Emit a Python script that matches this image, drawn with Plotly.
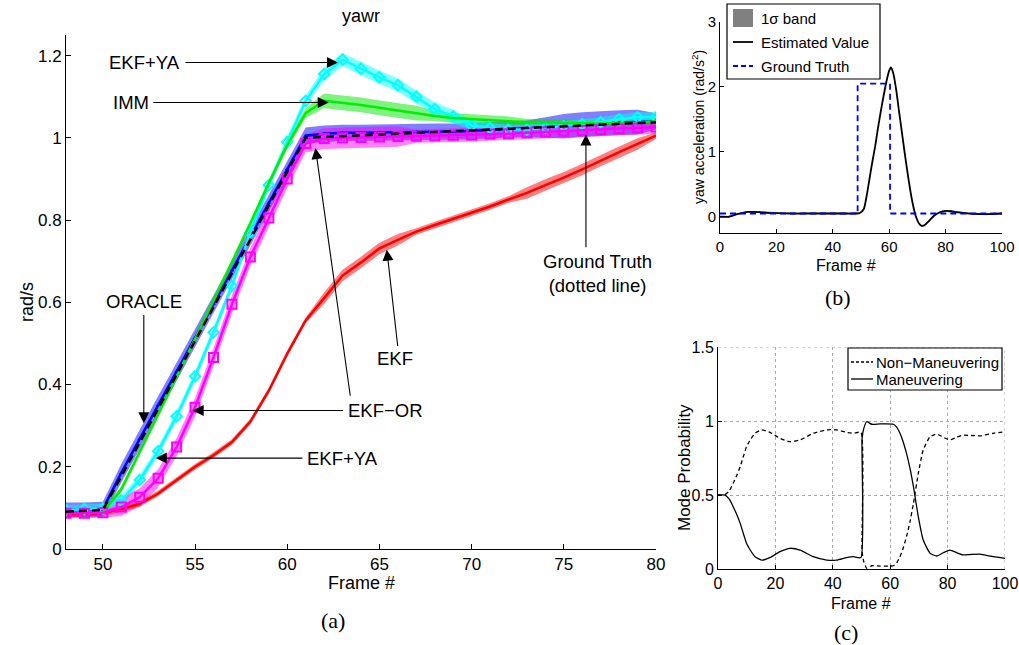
import plotly.graph_objects as go

W, H = 1019, 645

# ---------------- Panel (a) data: yaw rate (rad/s) vs frame ----------------
frames = [48, 49, 50, 51, 52, 53, 54, 55, 56, 57, 58, 59, 60, 61, 62, 63, 64,
          65, 66, 67, 68, 69, 70, 71, 72, 73, 74, 75, 76, 77, 78, 79, 80]

ground_truth = [0.091, 0.093, 0.095, 0.177, 0.259, 0.342, 0.424, 0.506, 0.588, 0.671, 0.753,
                0.835, 0.918, 1.000, 1.002, 1.004, 1.006, 1.008, 1.010, 1.012, 1.014, 1.016,
                1.018, 1.020, 1.022, 1.024, 1.026, 1.028, 1.030, 1.032, 1.034, 1.036, 1.038]

oracle = [0.095, 0.095, 0.097, 0.185, 0.268, 0.350, 0.432, 0.514, 0.596, 0.678, 0.760,
          0.842, 0.924, 1.005, 1.010, 1.012, 1.012, 1.013, 1.013, 1.014, 1.015, 1.015,
          1.017, 1.018, 1.020, 1.022, 1.025, 1.028, 1.032, 1.035, 1.037, 1.038, 1.040]
oracle_sd = [0.018, 0.018, 0.018, 0.022, 0.022, 0.022, 0.022, 0.022, 0.022, 0.022, 0.022,
             0.022, 0.022, 0.02, 0.02, 0.02, 0.02, 0.02, 0.02, 0.02, 0.02, 0.02,
             0.02, 0.02, 0.02, 0.02, 0.025, 0.03, 0.03, 0.03, 0.03, 0.03, 0.02]

imm = [0.088, 0.088, 0.089, 0.145, 0.235, 0.327, 0.419, 0.511, 0.603, 0.697, 0.792,
       0.890, 0.982, 1.060, 1.090, 1.085, 1.080, 1.073, 1.066, 1.060, 1.053, 1.048,
       1.045, 1.042, 1.040, 1.038, 1.037, 1.036, 1.035, 1.035, 1.036, 1.037, 1.040]
imm_sd = [0.008, 0.008, 0.008, 0.008, 0.008, 0.008, 0.008, 0.008, 0.008, 0.008, 0.008,
          0.008, 0.008, 0.012, 0.018, 0.018, 0.018, 0.018, 0.018, 0.018, 0.012, 0.012,
          0.012, 0.012, 0.012, 0.008, 0.008, 0.008, 0.008, 0.008, 0.008, 0.008, 0.008]

ekf_ya = [0.095, 0.097, 0.098, 0.118, 0.168, 0.238, 0.323, 0.420, 0.527, 0.640, 0.770,
          0.885, 0.990, 1.090, 1.155, 1.190, 1.168, 1.147, 1.128, 1.100, 1.070, 1.052,
          1.030, 1.024, 1.020, 1.020, 1.024, 1.028, 1.033, 1.038, 1.045, 1.050, 1.050]
ekf_ya_sd = [0.012, 0.012, 0.012, 0.012, 0.012, 0.012, 0.012, 0.012, 0.012, 0.012, 0.012,
             0.012, 0.012, 0.012, 0.016, 0.016, 0.016, 0.016, 0.016, 0.016, 0.016, 0.016,
             0.012, 0.012, 0.012, 0.012, 0.012, 0.012, 0.012, 0.012, 0.012, 0.012, 0.012]

ekf_or = [0.087, 0.087, 0.088, 0.102, 0.126, 0.172, 0.248, 0.345, 0.466, 0.595, 0.710,
          0.805, 0.900, 0.986, 0.998, 1.000, 1.001, 1.002, 1.003, 1.004, 1.005, 1.006,
          1.007, 1.009, 1.010, 1.012, 1.014, 1.016, 1.018, 1.020, 1.022, 1.024, 1.026]
ekf_or_sd = [0.012, 0.012, 0.012, 0.022, 0.022, 0.022, 0.022, 0.022, 0.022, 0.022, 0.022,
             0.022, 0.022, 0.022, 0.025, 0.025, 0.025, 0.025, 0.025, 0.016, 0.016, 0.016,
             0.016, 0.016, 0.016, 0.016, 0.016, 0.016, 0.016, 0.016, 0.016, 0.016, 0.016]

ekf = [0.085, 0.087, 0.088, 0.097, 0.110, 0.135, 0.168, 0.200, 0.228, 0.260, 0.310,
       0.385, 0.475, 0.556, 0.610, 0.665, 0.697, 0.731, 0.752, 0.772, 0.788, 0.803,
       0.818, 0.833, 0.850, 0.866, 0.885, 0.903, 0.923, 0.945, 0.965, 0.985, 1.005]
ekf_sd = [0.007, 0.007, 0.007, 0.007, 0.007, 0.007, 0.007, 0.007, 0.007, 0.007, 0.007,
          0.007, 0.007, 0.007, 0.014, 0.014, 0.014, 0.014, 0.014, 0.008, 0.008, 0.008,
          0.008, 0.008, 0.008, 0.014, 0.014, 0.014, 0.014, 0.014, 0.014, 0.014, 0.008]

x_ticks_a = [50, 55, 60, 65, 70, 75, 80]
y_ticks_a = [0, 0.2, 0.4, 0.6, 0.8, 1.0, 1.2]
y_ticklabels_a = ["0", "0.2", "0.4", "0.6", "0.8", "1", "1.2"]

# ---------------- Panel (b) data: yaw acceleration ----------------
gt_b_frame = [0, 48.8, 48.8, 60.3, 60.3, 100]
gt_b_value = [0.05, 0.05, 2.05, 2.05, 0.05, 0.05]

est_b_frame = [0, 3, 6, 8, 10, 12, 14, 17, 20, 25, 30, 35, 40, 45, 48, 49.5, 51, 52, 53, 54,
               55, 56, 57, 58, 59, 60, 60.6, 61.5, 62.5, 63.5, 64.5, 65.5, 66.5, 67.5, 68.5,
               69.5, 70.5, 71.5, 72.5, 74, 76, 78, 80, 82, 84, 87, 90, 95, 100]
est_b_value = [0.0, 0.0, 0.04, 0.06, 0.075, 0.075, 0.07, 0.06, 0.055, 0.05, 0.05, 0.05, 0.05,
               0.05, 0.05, 0.055, 0.12, 0.32, 0.58, 0.84, 1.08, 1.36, 1.62, 1.86, 2.08, 2.25,
               2.3, 2.2, 1.95, 1.62, 1.3, 0.98, 0.68, 0.4, 0.17, 0.0, -0.1, -0.14, -0.13,
               -0.07, 0.02, 0.07, 0.09, 0.085, 0.07, 0.055, 0.045, 0.04, 0.05]
est_b_sigma = 0.015

x_ticks_b = [0, 20, 40, 60, 80, 100]
y_ticks_b = [0, 1, 2, 3]

# ---------------- Panel (c) data: mode probabilities ----------------
mode_frame = [0, 2.3, 4, 5.3, 6.5, 7.7, 9, 10, 11.5, 12.9, 15.2, 18.1, 21.6, 25.1, 28.6, 33.2,
              37.9, 41.3, 44.8, 47.1, 49.8, 50.2, 50.8, 51.8, 53.6, 56.5, 61.1, 62.2, 63.4,
              64.5, 65.7, 66.9, 68.1, 69.8, 71.5, 73.9, 76.2, 78.5, 80.8, 83.2, 85.5, 88,
              91.3, 95.9, 100]
maneuvering = [0.5, 0.5, 0.47, 0.42, 0.37, 0.31, 0.23, 0.17, 0.12, 0.083, 0.06, 0.077, 0.117,
               0.14, 0.128, 0.083, 0.06, 0.06, 0.077, 0.083, 0.077, 0.88, 0.95, 0.995, 0.978,
               0.98, 0.978, 0.96, 0.917, 0.86, 0.78, 0.68, 0.556, 0.353, 0.196, 0.106, 0.088,
               0.11, 0.128, 0.11, 0.095, 0.098, 0.1, 0.083, 0.072]
non_maneuvering = [0.5, 0.5, 0.53, 0.58, 0.63, 0.69, 0.77, 0.83, 0.88, 0.917, 0.94, 0.923,
                   0.883, 0.86, 0.872, 0.917, 0.94, 0.94, 0.923, 0.917, 0.923, 0.12, 0.05,
                   0.005, 0.022, 0.02, 0.022, 0.04, 0.083, 0.14, 0.22, 0.32, 0.444, 0.647,
                   0.804, 0.894, 0.912, 0.89, 0.872, 0.89, 0.905, 0.902, 0.9, 0.917, 0.928]

x_ticks_c = [0, 20, 40, 60, 80, 100]
y_ticks_c = [0, 0.5, 1, 1.5]
y_ticklabels_c = ["0", "0.5", "1", "1.5"]

SANS = "Liberation Sans, Arial, sans-serif"
SERIF = "Liberation Serif, DejaVu Serif, serif"

fig = go.Figure()


def add_band(x, y, sd, color, xa="x", ya="y"):
    if isinstance(sd, (int, float)):
        sd = [sd] * len(y)
    up = [v + s for v, s in zip(y, sd)]
    lo = [v - s for v, s in zip(y, sd)]
    fig.add_trace(go.Scatter(x=list(x) + list(x)[::-1], y=up + lo[::-1], fill="toself",
                             fillcolor=color, line=dict(width=0), mode="lines",
                             hoverinfo="skip", showlegend=False, xaxis=xa, yaxis=ya))


# bands (a)
add_band(frames, oracle, oracle_sd, "rgba(0,0,255,0.5)")
add_band(frames, imm, imm_sd, "rgba(0,230,0,0.5)")
add_band(frames, ekf_ya, ekf_ya_sd, "rgba(0,255,255,0.5)")
add_band(frames, ekf_or, ekf_or_sd, "rgba(255,0,255,0.5)")
add_band(frames, ekf, ekf_sd, "rgba(255,0,0,0.5)")

# lines (a)
fig.add_trace(go.Scatter(x=frames, y=ekf, mode="lines", line=dict(color="#ff0000", width=2.5),
                         name="EKF", showlegend=False))
fig.add_trace(go.Scatter(x=frames, y=oracle, mode="lines+markers",
                         line=dict(color="#0000ff", width=2.5),
                         marker=dict(symbol="triangle-up", size=4, color="#0000ff"),
                         name="ORACLE", showlegend=False))
fig.add_trace(go.Scatter(x=frames, y=ekf_ya, mode="lines+markers",
                         line=dict(color="#00ffff", width=2.5),
                         marker=dict(symbol="diamond-open", size=8, color="#00ffff",
                                     line=dict(width=2, color="#00ffff")),
                         name="EKF+YA", showlegend=False))
fig.add_trace(go.Scatter(x=frames, y=imm, mode="lines", line=dict(color="#00ee00", width=2.5),
                         name="IMM", showlegend=False))
fig.add_trace(go.Scatter(x=frames, y=ekf_or, mode="lines+markers",
                         line=dict(color="#ff00ff", width=2.5),
                         marker=dict(symbol="square-open", size=9, color="#ff00ff",
                                     line=dict(width=2, color="#ff00ff")),
                         name="EKF-OR", showlegend=False))
fig.add_trace(go.Scatter(x=frames, y=ground_truth, mode="lines",
                         line=dict(color="black", width=2.5, dash="8px,5px"),
                         name="Ground Truth", showlegend=False))

# (b)
add_band(est_b_frame, est_b_value, est_b_sigma, "rgba(128,128,128,0.6)", "x2", "y2")
fig.add_trace(go.Scatter(x=est_b_frame, y=est_b_value, mode="lines", xaxis="x2", yaxis="y2",
                         line=dict(color="black", width=1.8, shape="spline", smoothing=0.6),
                         showlegend=False))
fig.add_trace(go.Scatter(x=gt_b_frame, y=gt_b_value, mode="lines", xaxis="x2", yaxis="y2",
                         line=dict(color="#0000ff", width=1.8, dash="6px,4px"), showlegend=False))

# (c)
fig.add_trace(go.Scatter(x=mode_frame, y=non_maneuvering, mode="lines", xaxis="x3", yaxis="y3",
                         line=dict(color="black", width=1.3, dash="4px,3px", shape="spline",
                                   smoothing=0.5), showlegend=False))
fig.add_trace(go.Scatter(x=mode_frame, y=maneuvering, mode="lines", xaxis="x3", yaxis="y3",
                         line=dict(color="black", width=1.3, shape="spline", smoothing=0.5),
                         showlegend=False))


def px(xp):
    return xp / W


def py(yp):
    return 1 - yp / H


def axis_style(size):
    return dict(showline=True, linecolor="black", linewidth=1, ticks="inside",
                tickcolor="black", zeroline=False, showgrid=False, automargin=False,
                tickfont=dict(family=SANS, size=size, color="black"))


GRID = dict(showgrid=True, griddash="dot", gridcolor="#aaaaaa", gridwidth=1)

fig.update_layout(
    width=W, height=H, autosize=False,
    margin=dict(l=0, r=0, t=0, b=0, pad=0),
    paper_bgcolor="white", plot_bgcolor="white",
    showlegend=False,
    xaxis=dict(domain=[px(66), px(656)], range=[48, 80], tickvals=x_ticks_a, anchor="y",
               ticklen=5, **axis_style(17)),
    yaxis=dict(domain=[py(549), py(35)], range=[0, 1.25], tickvals=y_ticks_a,
               ticktext=y_ticklabels_a, anchor="x", ticklen=5, **axis_style(17)),
    xaxis2=dict(domain=[px(720), px(1002)], range=[0, 100], tickvals=x_ticks_b, anchor="y2",
                ticklen=4, **axis_style(15)),
    yaxis2=dict(domain=[py(233), py(22)], range=[-0.25, 3], tickvals=y_ticks_b, anchor="x2",
                ticklen=4, **axis_style(15)),
    xaxis3=dict(domain=[px(718), px(1005)], range=[0, 100], tickvals=x_ticks_c, anchor="y3",
                ticklen=4, **{**axis_style(16), **GRID}),
    yaxis3=dict(domain=[py(569), py(347)], range=[0, 1.5], tickvals=y_ticks_c,
                ticktext=y_ticklabels_c, anchor="x3", ticklen=4, **{**axis_style(16), **GRID}),
)

ann = []


def text_paper(x, y, t, size=16, family=SANS, angle=0, xanchor="center"):
    ann.append(dict(x=px(x), y=py(y), xref="paper", yref="paper", text=t, showarrow=False,
                    font=dict(family=family, size=size, color="black"), textangle=angle,
                    xanchor=xanchor, yanchor="middle"))


def text_data(x, y, t, size=18.5, xanchor="center"):
    ann.append(dict(x=x, y=y, xref="x", yref="y", text=t, showarrow=False,
                    font=dict(family=SANS, size=size, color="black"),
                    xanchor=xanchor, yanchor="middle"))


def arrow(x0, y0, x1, y1):
    ann.append(dict(x=x1, y=y1, ax=x0, ay=y0, xref="x", yref="y", axref="x", ayref="y",
                    text="", showarrow=True, arrowhead=2, arrowsize=2.0, arrowwidth=1.1,
                    arrowcolor="black", standoff=0, startstandoff=0))


# panel (a) titles
text_paper(361, 16, "yawr", 18)
text_paper(361, 583, "Frame #", 18)
text_paper(27, 302, "rad/s", 18, angle=-90)
text_paper(333, 620, "(a)", 22, SERIF)

# panel (a) labels and arrows
text_data(54.3, 1.183, "EKF+YA", xanchor="right")
arrow(54.4, 1.183, 62.75, 1.183)
text_data(52.6, 1.086, "IMM", xanchor="right")
arrow(52.65, 1.086, 62.25, 1.086)
text_data(52.22, 0.602, "ORACLE")
arrow(52.22, 0.573, 52.22, 0.306)
text_data(63.2, 0.337, "EKF\u2212OR", xanchor="left")
arrow(63.1, 0.337, 54.87, 0.337)
arrow(63.43, 0.369, 61.53, 0.975)
text_data(60.95, 0.221, "EKF+YA", xanchor="left")
arrow(60.9, 0.221, 52.87, 0.221)
text_data(65.86, 0.464, "EKF")
arrow(66.0, 0.49, 65.4, 0.728)
text_data(76.85, 0.67, "Ground Truth<br>(dotted line)")
arrow(76.2, 0.73, 76.2, 1.008)

# panel (b) titles
text_paper(846, 265, "Frame #", 16)
text_paper(698, 127, "yaw acceleration (rad/s<sup>2</sup>)", 14, angle=-90)
text_paper(838, 297, "(b)", 22, SERIF)

# panel (c) titles
text_paper(861, 603, "Frame #", 16)
text_paper(684, 468, "Mode Probability", 17, angle=-90)
text_paper(846, 632, "(c)", 22, SERIF)

shapes = []
# (c) dotted grid lines at the upper and right limits
shapes.append(dict(type="line", xref="x3", yref="y3", x0=0, x1=100, y0=1.5, y1=1.5,
                   line=dict(color="#aaaaaa", width=1, dash="dot"), layer="below"))
shapes.append(dict(type="line", xref="x3", yref="y3", x0=100, x1=100, y0=0, y1=1.5,
                   line=dict(color="#aaaaaa", width=1, dash="dot"), layer="below"))

# legend (b)
shapes.append(dict(type="rect", xref="paper", yref="paper", x0=px(727), x1=px(880),
                   y0=py(79), y1=py(4), line=dict(color="black", width=1.2),
                   fillcolor="white", layer="above"))
shapes.append(dict(type="rect", xref="paper", yref="paper", x0=px(733), x1=px(753),
                   y0=py(27), y1=py(9), line=dict(width=0), fillcolor="#808080", layer="above"))
shapes.append(dict(type="line", xref="paper", yref="paper", x0=px(733), x1=px(753),
                   y0=py(42), y1=py(42), line=dict(color="black", width=1.8), layer="above"))
shapes.append(dict(type="line", xref="paper", yref="paper", x0=px(733), x1=px(753),
                   y0=py(66), y1=py(66), line=dict(color="#0000ff", width=1.8, dash="5px,3px"),
                   layer="above"))
text_paper(759, 18, "1\u03c3 band", 15, xanchor="left")
text_paper(759, 42, "Estimated Value", 15, xanchor="left")
text_paper(759, 66, "Ground Truth", 15, xanchor="left")

# legend (c)
shapes.append(dict(type="rect", xref="paper", yref="paper", x0=px(848), x1=px(1002),
                   y0=py(390), y1=py(348), line=dict(color="black", width=1.2),
                   fillcolor="white", layer="above"))
shapes.append(dict(type="line", xref="paper", yref="paper", x0=px(851), x1=px(873),
                   y0=py(362), y1=py(362), line=dict(color="black", width=1.3, dash="3px,2px"),
                   layer="above"))
shapes.append(dict(type="line", xref="paper", yref="paper", x0=px(851), x1=px(873),
                   y0=py(379), y1=py(379), line=dict(color="black", width=1.3),
                   layer="above"))
text_paper(874, 362, "Non\u2212Maneuvering", 15, xanchor="left")
text_paper(874, 379, "Maneuvering", 15, xanchor="left")

fig.update_layout(annotations=ann, shapes=shapes)

fig.write_html(
    "out.html",
    config={"displayModeBar": False},
    post_script="document.body.style.margin='0px';document.body.style.padding='0px';"
                "document.body.style.overflow='hidden';",
)
